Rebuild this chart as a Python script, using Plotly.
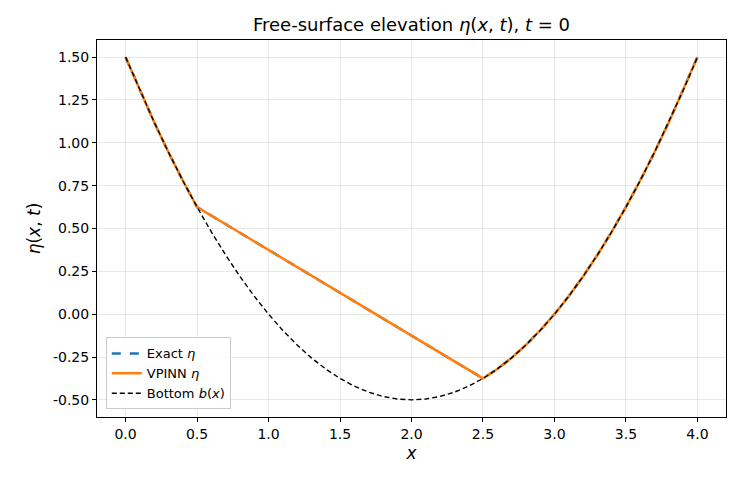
import plotly.graph_objects as go

x = [round(0.1 * i, 1) for i in range(41)]
bottom = [1.5, 1.305, 1.12, 0.945, 0.78, 0.625, 0.48, 0.345, 0.22, 0.105,
          0.0, -0.095, -0.18, -0.255, -0.32, -0.375, -0.42, -0.455, -0.48, -0.495,
          -0.5, -0.495, -0.48, -0.455, -0.42, -0.375, -0.32, -0.255, -0.18, -0.095,
          0.0, 0.105, 0.22, 0.345, 0.48, 0.625, 0.78, 0.945, 1.12, 1.305, 1.5]
eta_exact = [1.5, 1.305, 1.12, 0.945, 0.78, 0.625, 0.575, 0.525, 0.475, 0.425,
             0.375, 0.325, 0.275, 0.225, 0.175, 0.125, 0.075, 0.025, -0.025, -0.075,
             -0.125, -0.175, -0.225, -0.275, -0.325, -0.375, -0.32, -0.255, -0.18, -0.095,
             0.0, 0.105, 0.22, 0.345, 0.48, 0.625, 0.78, 0.945, 1.12, 1.305, 1.5]
eta_vpinn = list(eta_exact)

xticks = [0.0, 0.5, 1.0, 1.5, 2.0, 2.5, 3.0, 3.5, 4.0]
yticks = [-0.5, -0.25, 0.0, 0.25, 0.5, 0.75, 1.0, 1.25, 1.5]

fig = go.Figure()
fig.add_trace(go.Scatter(x=x, y=eta_exact, mode="lines", name="Exact <i>η</i>",
                         line=dict(color="#1f77b4", width=2.5, dash="dash")))
fig.add_trace(go.Scatter(x=x, y=eta_vpinn, mode="lines", name="VPINN <i>η</i>",
                         line=dict(color="#ff7f0e", width=2.5)))
fig.add_trace(go.Scatter(x=x, y=bottom, mode="lines", name="Bottom <i>b</i>(<i>x</i>)",
                         line=dict(color="black", width=1.4, dash="5px,3px")))

axis_common = dict(showline=True, linecolor="black", linewidth=1, mirror=True,
                   ticks="outside", ticklen=4, tickcolor="black",
                   showgrid=True, gridcolor="rgba(0,0,0,0.09)", gridwidth=1,
                   zeroline=False, tickfont=dict(size=14, color="black"))

fig.update_layout(
    width=740, height=480,
    margin=dict(l=97, r=14, t=40, b=63),
    plot_bgcolor="white", paper_bgcolor="white",
    font=dict(family="DejaVu Sans", color="black"),
    title=dict(text="Free-surface elevation <i>η</i>(<i>x</i>, <i>t</i>), <i>t</i> = 0",
               x=0.5, xanchor="center", xref="paper", y=0.948, yanchor="middle",
               font=dict(size=18)),
    xaxis=dict(range=[-0.2, 4.2], tickvals=xticks,
               ticktext=[f"{v:.1f}" for v in xticks],
               title=dict(text="<i>x</i>", font=dict(size=17), standoff=6), **axis_common),
    yaxis=dict(range=[-0.6, 1.6], tickvals=yticks,
               ticktext=[f"{v:.2f}" for v in yticks],
               title=dict(text="<i>η</i>(<i>x</i>, <i>t</i>)", font=dict(size=17), standoff=8),
               **axis_common),
    legend=dict(x=0.014, y=0.02, xanchor="left", yanchor="bottom",
                bgcolor="rgba(255,255,255,0.8)", bordercolor="#cccccc", borderwidth=1,
                font=dict(size=13), tracegroupgap=0, itemwidth=30),
    showlegend=True,
)

fig.write_html("out.html")
